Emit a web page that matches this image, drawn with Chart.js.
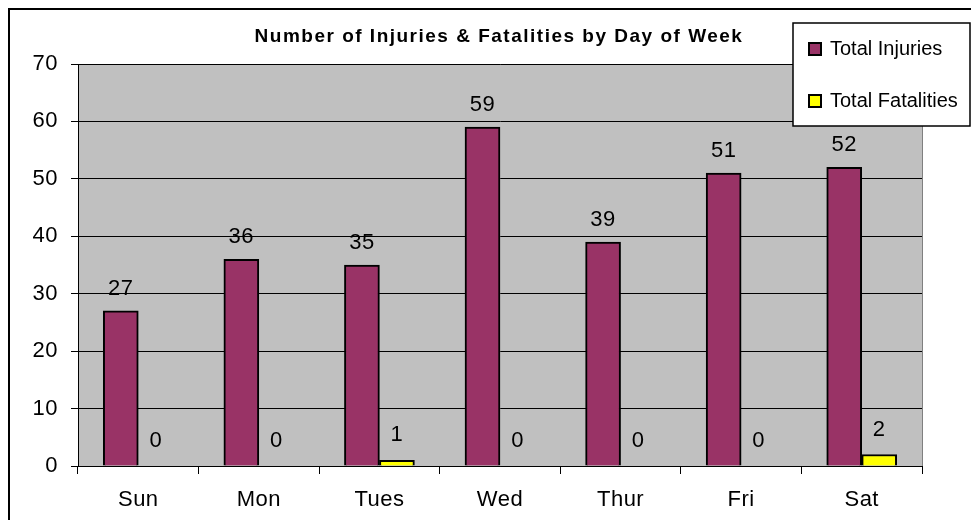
<!DOCTYPE html>
<html lang="en">
<head>
<meta charset="UTF-8">
<title>Number of Injuries &amp; Fatalities by Day of Week</title>
<script src="https://cdn.jsdelivr.net/npm/chart.js"></script>
<style>
    body {
        margin: 0;
        background: #fff;
    }

    #wrap {
        width: 971px;
        height: 520px;
    }
</style>
</head>
<body>
<div id="wrap"><canvas id="dayChart" width="971" height="520"></canvas></div>
<script>
    // data
    const days = ['Sun', 'Mon', 'Tues', 'Wed', 'Thur', 'Fri', 'Sat'];
    const injuries = [27, 36, 35, 59, 39, 51, 52];
    const fatalities = [0, 0, 1, 0, 0, 0, 2];
    const seriesNames = ['Total Injuries', 'Total Fatalities'];
    const chartTitle = 'Number of Injuries & Fatalities by Day of Week';
    const yMax = 70;
    const yStep = 10;

    const FONT = '"Liberation Sans", Arial, sans-serif';

    // grey plot area, outer frame and title (drawn under everything)
    const backdrop = {
        id: 'backdrop',
        beforeDraw(chart) {
            const { ctx, chartArea: a } = chart;
            ctx.save();
            ctx.fillStyle = '#fff';
            ctx.fillRect(0, 0, chart.width, chart.height);
            ctx.fillStyle = '#c0c0c0';
            ctx.fillRect(a.left, a.top, a.right - a.left, a.bottom - a.top);
            ctx.strokeStyle = '#808080';
            ctx.lineWidth = 1;
            ctx.strokeRect(a.left + 0.5, a.top + 0.5, a.right - a.left, a.bottom - a.top);

            // outer frame, only left and top edges are inside the picture
            ctx.strokeStyle = '#000';
            ctx.lineWidth = 2;
            ctx.beginPath();
            ctx.moveTo(9, chart.height);
            ctx.lineTo(9, 9);
            ctx.lineTo(chart.width, 9);
            ctx.stroke();

            ctx.fillStyle = '#000';
            ctx.font = 'bold 19px ' + FONT;
            ctx.letterSpacing = '1.5px';
            ctx.textAlign = 'center';
            ctx.textBaseline = 'middle';
            ctx.fillText(chartTitle, 499, 37);
            ctx.restore();

            // slightly wider tick text, like the original
            ctx.letterSpacing = '0.5px';
        }
    };

    // value labels above each bar + boxed legend on top
    const overlay = {
        id: 'overlay',
        afterDraw(chart) {
            const ctx = chart.ctx;
            ctx.save();
            ctx.letterSpacing = '0.5px';
            ctx.fillStyle = '#000';
            ctx.font = '22px ' + FONT;
            ctx.textAlign = 'center';
            ctx.textBaseline = 'middle';
            chart.data.datasets.forEach((ds, di) => {
                const meta = chart.getDatasetMeta(di);
                meta.data.forEach((bar, i) => {
                    ctx.fillText(String(ds.data[i]), bar.x, bar.y - ds.labelLift);
                });
            });

            // legend box
            ctx.letterSpacing = '0px';
            ctx.fillStyle = '#fff';
            ctx.fillRect(793, 23, 177, 103);
            ctx.strokeStyle = '#000';
            ctx.lineWidth = 1.5;
            ctx.strokeRect(793, 23, 177, 103);
            ctx.font = '20px ' + FONT;
            ctx.textAlign = 'left';
            chart.data.datasets.forEach((ds, di) => {
                const y = 49 + di * 52;
                ctx.fillStyle = ds.backgroundColor;
                ctx.fillRect(809, y - 6, 12, 12);
                ctx.strokeStyle = '#000';
                ctx.lineWidth = 2;
                ctx.strokeRect(809, y - 6, 12, 12);
                ctx.fillStyle = '#000';
                ctx.fillText(ds.label, 830, y);
            });
            ctx.restore();
            ctx.letterSpacing = '0px';
        }
    };

    new Chart(document.getElementById('dayChart'), {
        type: 'bar',
        data: {
            labels: days,
            datasets: [
                {
                    label: seriesNames[0],
                    data: injuries,
                    backgroundColor: '#993366',
                    borderColor: '#000',
                    borderWidth: 2,
                    barThickness: 35,
                    labelLift: 22
                },
                {
                    label: seriesNames[1],
                    data: fatalities,
                    backgroundColor: '#ffff00',
                    borderColor: '#000',
                    borderWidth: 2,
                    barThickness: 35,
                    labelLift: 25
                }
            ]
        },
        options: {
            responsive: false,
            animation: false,
            devicePixelRatio: 1,
            layout: {
                padding: { top: 64, right: 49, left: 0, bottom: 0 }
            },
            plugins: {
                legend: { display: false },
                title: { display: false },
                tooltip: { enabled: false }
            },
            scales: {
                x: {
                    ticks: {
                        color: '#000',
                        font: { family: FONT, size: 22 },
                        padding: 13,
                        maxRotation: 0,
                        autoSkip: false
                    },
                    grid: {
                        display: true,
                        offset: true,
                        drawOnChartArea: false,
                        drawTicks: true,
                        tickLength: 8,
                        color: '#000'
                    },
                    border: { color: '#000', width: 1 },
                    afterFit(scale) { scale.height = 54; }
                },
                y: {
                    min: 0,
                    max: yMax,
                    ticks: {
                        stepSize: yStep,
                        color: '#000',
                        font: { family: FONT, size: 22 },
                        padding: 13
                    },
                    grid: {
                        color: '#000',
                        lineWidth: 1,
                        drawTicks: true,
                        tickLength: 7
                    },
                    border: { color: '#000', width: 1 },
                    afterFit(scale) { scale.width = 78; }
                }
            }
        },
        plugins: [backdrop, overlay]
    });
</script>
</body>
</html>
